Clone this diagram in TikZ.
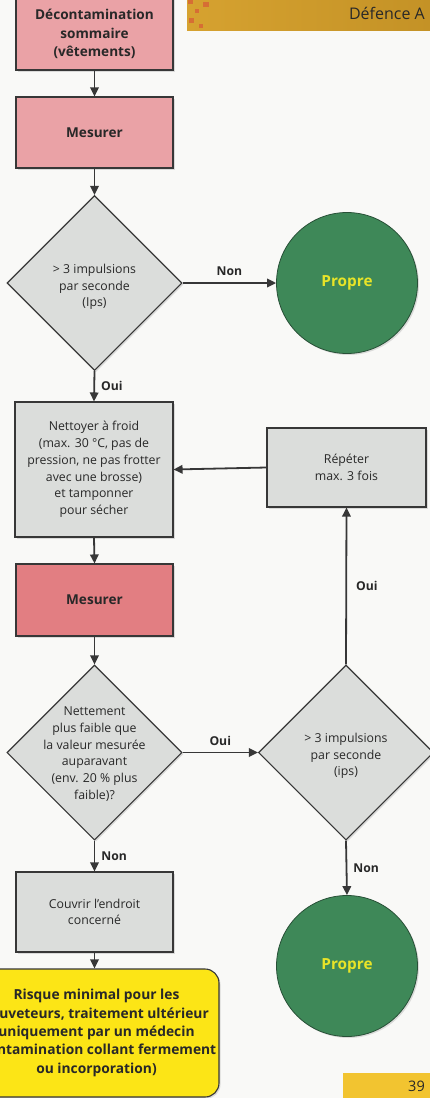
\documentclass[tikz,border=0pt]{standalone}
\usepackage{fontspec}
\setmainfont{Open Sans}
\usetikzlibrary{arrows.meta,shapes.geometric,shadows}
\definecolor{bgc}{RGB}{249,249,247}
\definecolor{edgec}{RGB}{55,55,55}
\definecolor{txtc}{RGB}{40,40,40}
\definecolor{pinkA}{RGB}{234,162,166}
\definecolor{pinkB}{RGB}{226,126,130}
\definecolor{grayf}{RGB}{219,221,219}
\definecolor{greenf}{RGB}{62,136,88}
\definecolor{greend}{RGB}{40,80,55}
\definecolor{proptxt}{RGB}{232,228,40}
\definecolor{yelbox}{RGB}{252,229,22}
\definecolor{goldL}{RGB}{214,162,48}
\definecolor{goldR}{RGB}{196,146,38}
\definecolor{orsq}{RGB}{214,110,52}
\definecolor{pagey}{RGB}{242,196,48}
\newcommand{\fsn}{\fontsize{12.3}{16.7}\selectfont}
\newcommand{\fsbold}{\fontsize{13.6}{18.4}\selectfont\bfseries}
\begin{document}
\begin{tikzpicture}[x=1pt,y=-1pt,
  shad/.style={drop shadow={opacity=0.25,shadow xshift=1.5pt,shadow yshift=-1.5pt}},
  box/.style={draw=edgec,line width=1.1pt,align=center,text=txtc,inner sep=2pt,shad},
  pinkbox/.style={box,fill=pinkA,font=\fsbold},
  pinkbox2/.style={box,fill=pinkB,font=\fsbold},
  graybox/.style={box,fill=grayf,font=\fsn},
  dia/.style={diamond,aspect=1,draw=edgec,fill=grayf,line width=1.1pt,inner sep=0pt,minimum width=175pt,minimum height=175pt,shad},
  diatxt/.style={align=center,text=txtc,font=\fsn,inner sep=0pt},
  circ/.style={circle,fill=greenf,draw=greend,line width=0.8pt,minimum size=141pt,text=proptxt,font=\fontsize{15.3}{17}\selectfont\bfseries,shad},
  lbl/.style={font=\fontsize{12.2}{15}\selectfont\bfseries,text=txtc,inner sep=0pt},
  arr/.style={line width=1.8pt,draw=edgec,-{Triangle[length=9pt,width=8.5pt]}}
]
\useasboundingbox (0,0) rectangle (430,1098);
\fill[bgc] (0,0) rectangle (430,1098);

% header band
\shade[left color=goldL,right color=goldR] (187,0) rectangle (430,30);
\fill[orsq] (188,0) rectangle (193,4);
\fill[orsq] (203,2) rectangle (209,7);
\fill[orsq] (195,9) rectangle (199,13);
\fill[orsq] (189,18) rectangle (194,23);
\fill[orsq] (199,24) rectangle (203,28);
\node[anchor=east,font=\fontsize{16}{18}\selectfont,text=txtc,inner sep=0pt] (hdr) at (425,13) {Défence A};

% page number
\fill[pagey] (343,1073) rectangle (430,1098);
\node[anchor=east,font=\fontsize{14.5}{16}\selectfont,text=txtc,inner sep=0pt] (pg) at (425,1086) {39};

% left column
\node[pinkbox,minimum width=157pt,minimum height=84pt] (b1) at (94.5,28) {};
\node[font=\fsbold,text=txtc,align=center,inner sep=0pt] (b1t) at (94.5,34) {Décontamination\\sommaire\\(vêtements)};
\node[pinkbox,minimum width=157pt,minimum height=71pt] (b2) at (94.5,132.5) {Mesurer};
\node[dia] (d1) at (94.5,283) {};
\node[diatxt] (d1t) at (94.5,287) {> 3 impulsions\\par seconde\\(Ips)};
\node[circ] (c1) at (347,283) {Propre};
\node[graybox,minimum width=158pt,minimum height=135pt] (b3) at (94,469.5) {Nettoyer à froid\\(max. 30 °C, pas de\\pression, ne pas frotter\\avec une brosse)\\et tamponner\\pour sécher};
\node[graybox,minimum width=159pt,minimum height=79pt] (rep) at (346.5,467.5) {Répéter\\max. 3 fois};
\node[pinkbox2,minimum width=157pt,minimum height=72pt] (b4) at (94.5,600) {Mesurer};
\node[dia] (d3) at (94.5,752.5) {};
\node[diatxt] (d3t) at (94.5,754) {Nettement\\plus faible que\\la valeur mesurée\\auparavant\\(env. 20 \% plus\\faible)?};
\node[dia] (d4) at (346,752.5) {};
\node[diatxt] (d4t) at (346,756) {> 3 impulsions\\par seconde\\(ips)};
\node[graybox,minimum width=157pt,minimum height=80pt] (b5) at (94.5,912) {Couvrir l’endroit\\concerné};
\node[circ] (c2) at (347,966) {Propre};
\node[box,fill=yelbox,rounded corners=14pt,minimum width=245pt,minimum height=128pt,font=\fontsize{13.8}{18.3}\selectfont\bfseries] (yb) at (96.5,1033) {Risque minimal pour les\\sauveteurs, traitement ultérieur\\uniquement par un médecin\\(contamination collant fermement\\ou incorporation)};

% connectors
\draw[arr] (b1.south) -- (b2.north);
\draw[arr] (b2.south) -- (d1.north);
\draw[arr] (d1.east) -- node[lbl,above=6pt] (lnon1) {Non} (c1.west);
\draw[arr] (d1.south) -- node[lbl,right=6pt] (loui1) {Oui} (b3.north);
\draw[arr] (rep.west) -- (b3.east);
\draw[arr] (b3.south) -- (b4.north);
\draw[arr] (b4.south) -- (d3.north);
\draw[arr] (d3.east) -- node[lbl,above=6pt] (loui2) {Oui} (d4.west);
\draw[arr] (d4.north) -- node[lbl,right=9pt] (loui3) {Oui} (rep.south);
\draw[arr] (d3.south) -- node[lbl,right=6pt] (lnon2) {Non} (b5.north);
\draw[arr] (d4.south) -- node[lbl,right=6pt] (lnon3) {Non} (c2.north);
\draw[arr] (b5.south) -- (yb.north -| b5.south);
\end{tikzpicture}
\end{document}
